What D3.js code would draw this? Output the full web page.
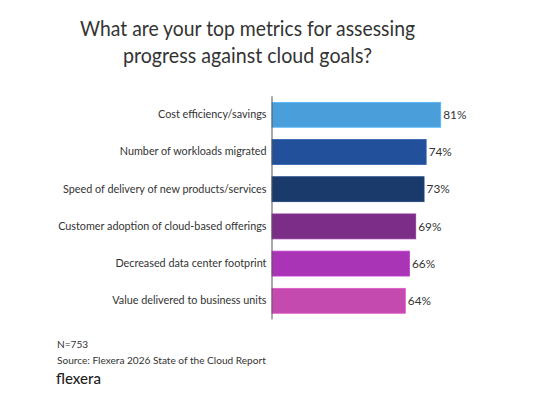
<!DOCTYPE html>
<html><head><meta charset="utf-8">
<script src="https://cdn.jsdelivr.net/npm/d3@7"></script>
<style>
html,body{margin:0;padding:0;background:#fff;}
svg{display:block;}
</style></head>
<body>
<svg id="chart" width="550" height="405"></svg>
<script>
const titleLines = ["What are your top metrics for assessing", "progress against cloud goals?"];
const categories = [
  "Cost efficiency/savings",
  "Number of workloads migrated",
  "Speed of delivery of new products/services",
  "Customer adoption of cloud-based offerings",
  "Decreased data center footprint",
  "Value delivered to business units"
];
const values = [81, 74, 73, 69, 66, 64];
const colors = ["#4a9fdb", "#23509a", "#1a3a6c", "#7b2d88", "#a934b5", "#c44aaf"];
const footnotes = ["N=753", "Source: Flexera 2026 State of the Cloud Report"];
const brand = "flexera";

const svg = d3.select("#chart");
const font = "'Source Sans Pro', Lato, 'Open Sans', sans-serif";

const titleWidths = [335, 249];
svg.append("g").selectAll("text").data(titleLines).join("text")
  .attr("x", 247.5).attr("y", (d, i) => 35.5 + i * 27.5)
  .attr("text-anchor", "middle")
  .attr("font-family", font).attr("font-size", 22)
  .attr("textLength", (d, i) => titleWidths[i]).attr("lengthAdjust", "spacingAndGlyphs")
  .attr("fill", "#333").text(d => d);

const x = d3.scaleLinear().domain([0, 100]).range([272, 480.3]);
const y = d3.scaleBand().domain(categories).range([96.2, 319.4]).paddingInner(0.33).paddingOuter(0.165);

const data = categories.map((c, i) => ({c, v: values[i], col: colors[i]}));

svg.append("g").selectAll("rect").data(data).join("rect")
  .attr("x", x(0)).attr("y", d => y(d.c))
  .attr("width", d => x(d.v) - x(0)).attr("height", y.bandwidth())
  .attr("fill", d => d.col)
  .attr("stroke", d => d3.color(d.col).brighter(0.4)).attr("stroke-width", 0.8);

const yAxis = d3.axisLeft(y).tickSize(0).tickPadding(5.5);
const ga = svg.append("g").attr("transform", `translate(${x(0)},0)`).call(yAxis);
ga.select(".domain").attr("stroke", "#555").attr("stroke-width", 1)
  .attr("d", `M0,96.2V319.4`);
ga.selectAll(".tick text").attr("font-family", font).attr("font-size", 10.8).attr("fill", "#333");

svg.append("g").selectAll("text").data(data).join("text")
  .attr("x", d => x(d.v) + 2.5).attr("y", d => y(d.c) + y.bandwidth() / 2)
  .attr("dy", "0.35em")
  .attr("font-family", font).attr("font-size", 11.8).attr("fill", "#333")
  .text(d => d.v + "%");

svg.append("g").selectAll("text").data(footnotes).join("text")
  .attr("x", 57).attr("y", (d, i) => 348 + i * 16)
  .attr("font-family", font).attr("font-size", 10.1).attr("fill", "#333")
  .text(d => d);

svg.append("text").attr("x", 56).attr("y", 384)
  .attr("font-family", font).attr("font-size", 15.5).attr("font-weight", 500)
  .attr("textLength", 45).attr("lengthAdjust", "spacingAndGlyphs")
  .attr("fill", "#222").text(brand);
</script>
</body></html>
